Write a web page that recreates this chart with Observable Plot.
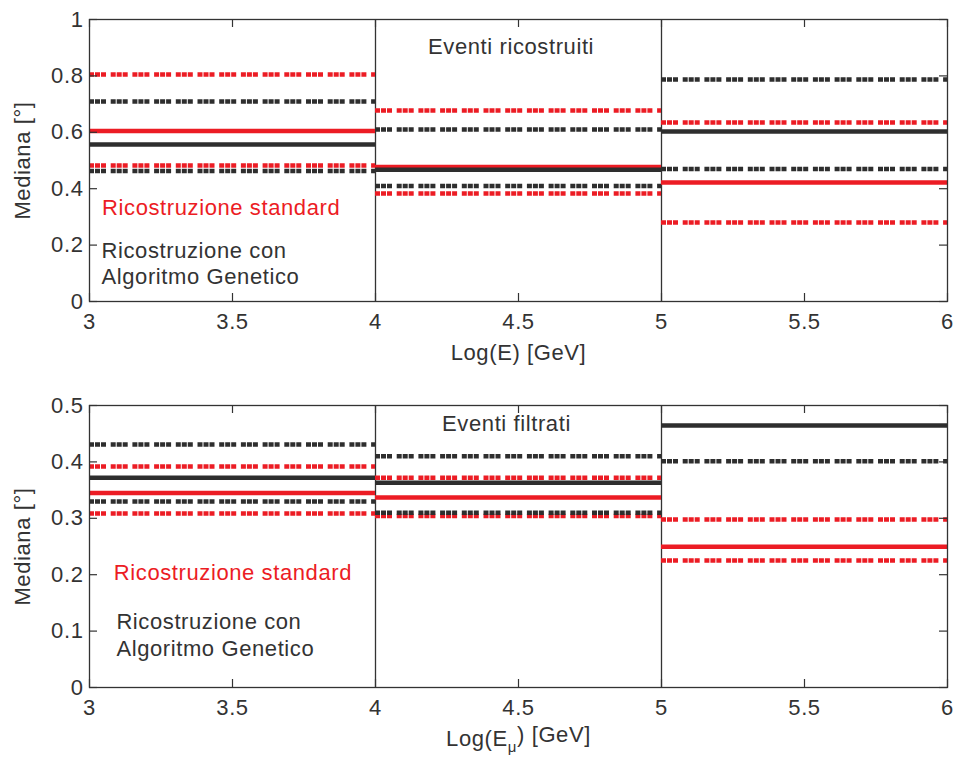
<!DOCTYPE html>
<html><head><meta charset="utf-8">
<script src="https://cdn.jsdelivr.net/npm/d3@7"></script>
<script src="https://cdn.jsdelivr.net/npm/@observablehq/plot@0.6"></script>
<style>
body{margin:0;background:#fff;}
#chart{width:959px;height:764px;overflow:hidden;}
#chart svg{display:block;}
#chart svg text{letter-spacing:0.6px;}
</style></head><body><div id="chart"></div>
<script>
// ---- data ----
const binStart = [3, 4, 5];
const binEnd = [4, 5, 6];
const binEdges = [4, 5];
const xTicks = [3, 3.5, 4, 4.5, 5, 5.5, 6];
const xTickLabels = ["3", "3.5", "4", "4.5", "5", "5.5", "6"];

// Top panel: Eventi ricostruiti
const topYTicks = [0, 0.2, 0.4, 0.6, 0.8, 1];
const topYTickLabels = ["0", "0.2", "0.4", "0.6", "0.8", "1"];
const topStdMedian = [0.605, 0.477, 0.422];
const topStdQ1 = [0.482, 0.383, 0.28];
const topStdQ3 = [0.805, 0.677, 0.635];
const topGaMedian = [0.557, 0.467, 0.603];
const topGaQ1 = [0.463, 0.41, 0.47];
const topGaQ3 = [0.709, 0.61, 0.787];

// Bottom panel: Eventi filtrati
const botYTicks = [0, 0.1, 0.2, 0.3, 0.4, 0.5];
const botYTickLabels = ["0", "0.1", "0.2", "0.3", "0.4", "0.5"];
const botStdMedian = [0.345, 0.337, 0.2495];
const botStdQ1 = [0.3085, 0.304, 0.225];
const botStdQ3 = [0.392, 0.372, 0.298];
const botGaMedian = [0.372, 0.363, 0.4645];
const botGaQ1 = [0.33, 0.31, 0.401];
const botGaQ3 = [0.431, 0.41, null];

const yLabel = "Mediana [°]";
const legendStd = "Ricostruzione standard";
const legendGa = ["Ricostruzione con", "Algoritmo Genetico"];

// ---- drawing ----
const RED = "#ec1c24";
const BLACK = "#2e2e2e";
const TEXT = "#333333";
const DOT = "5,1,5,1,5,4.7";
const FRAME_W = 858, FRAME_H = 282, TICK = 8;

function rows(med, q1, q3) {
  return binStart.map((s, i) => ({x1: s, x2: binEnd[i], med: med[i], q1: q1[i], q3: q3[i]}));
}

function panel(cfg) {
  const std = rows(cfg.std[0], cfg.std[1], cfg.std[2]);
  const ga = rows(cfg.ga[0], cfg.ga[1], cfg.ga[2]);
  const fx = d => xTickLabels[xTicks.indexOf(d)];
  const fy = d => cfg.yTickLabels[cfg.yTicks.indexOf(d)];
  const tk = {stroke: "#333", strokeWidth: 1.2};
  return Plot.plot({
    width: 959, height: 382,
    marginTop: cfg.marginTop, marginBottom: cfg.marginBottom, marginLeft: 89, marginRight: 12,
    x: {domain: [3, 6]},
    y: {domain: cfg.yDomain},
    style: {fontFamily: "'Liberation Sans', Arial, Helvetica, sans-serif", fontSize: "22px", color: TEXT, background: "#fff"},
    marks: [
      Plot.ruleX(binEdges, {stroke: "#333", strokeWidth: 1.3}),
      Plot.ruleY(std, {x1: "x1", x2: "x2", y: "q1", stroke: RED, strokeWidth: 4.5, strokeDasharray: DOT, filter: d => d.q1 != null}),
      Plot.ruleY(std, {x1: "x1", x2: "x2", y: "q3", stroke: RED, strokeWidth: 4.5, strokeDasharray: DOT, filter: d => d.q3 != null}),
      Plot.ruleY(std, {x1: "x1", x2: "x2", y: "med", stroke: RED, strokeWidth: 4.5}),
      Plot.ruleY(ga, {x1: "x1", x2: "x2", y: "q1", stroke: BLACK, strokeWidth: 4.5, strokeDasharray: DOT, filter: d => d.q1 != null}),
      Plot.ruleY(ga, {x1: "x1", x2: "x2", y: "q3", stroke: BLACK, strokeWidth: 4.5, strokeDasharray: DOT, filter: d => d.q3 != null}),
      Plot.ruleY(ga, {x1: "x1", x2: "x2", y: "med", stroke: BLACK, strokeWidth: 4.5}),
      // inward tick marks on all four sides
      Plot.ruleX(xTicks, {...tk, insetTop: FRAME_H - TICK}),
      Plot.ruleX(xTicks, {...tk, insetBottom: FRAME_H - TICK}),
      Plot.ruleY(cfg.yTicks, {...tk, insetRight: FRAME_W - TICK}),
      Plot.ruleY(cfg.yTicks, {...tk, insetLeft: FRAME_W - TICK}),
      Plot.frame({stroke: "#333", strokeWidth: 1.3}),
      Plot.axisX({ticks: xTicks, anchor: "bottom", tickSize: 0, tickPadding: 12, tickFormat: fx, label: null}),
      Plot.axisY({ticks: cfg.yTicks, anchor: "left", tickSize: 0, tickPadding: 6, tickFormat: fy, label: null}),
      Plot.text([yLabel], {frameAnchor: "left", dx: -67, rotate: -90, textAnchor: "middle", lineAnchor: "middle", fill: TEXT}),
      Plot.text([cfg.xLabel], {frameAnchor: "bottom", dy: 51, textAnchor: "middle", lineAnchor: "middle", fill: TEXT, className: cfg.xLabelClass}),
      Plot.text([cfg.title], {x: cfg.titlePos[0], y: cfg.titlePos[1], textAnchor: "middle", lineAnchor: "middle", fill: TEXT}),
      Plot.text([legendStd], {x: cfg.stdPos[0], y: cfg.stdPos[1], textAnchor: "start", lineAnchor: "middle", fill: RED}),
      Plot.text([legendGa[0]], {x: cfg.gaPos[0], y: cfg.gaPos[1], textAnchor: "start", lineAnchor: "middle", fill: TEXT}),
      Plot.text([legendGa[1]], {x: cfg.gaPos[0], y: cfg.gaPos[2], textAnchor: "start", lineAnchor: "middle", fill: TEXT})
    ]
  });
}

const topPanel = panel({
  marginTop: 19, marginBottom: 81, yDomain: [0, 1],
  yTicks: topYTicks, yTickLabels: topYTickLabels,
  std: [topStdMedian, topStdQ1, topStdQ3], ga: [topGaMedian, topGaQ1, topGaQ3],
  title: "Eventi ricostruiti", titlePos: [4.474, 0.9025],
  stdPos: [3.044, 0.3316], gaPos: [3.042, 0.181, 0.0887],
  xLabel: "Log(E) [GeV]", xLabelClass: "xlab-top"
});
const bottomPanel = panel({
  marginTop: 23, marginBottom: 77, yDomain: [0, 0.5],
  yTicks: botYTicks, yTickLabels: botYTickLabels,
  std: [botStdMedian, botStdQ1, botStdQ3], ga: [botGaMedian, botGaQ1, botGaQ3],
  title: "Eventi filtrati", titlePos: [4.458, 0.467],
  stdPos: [3.085, 0.203], gaPos: [3.094, 0.117, 0.069],
  xLabel: "Log(Eμ) [GeV]", xLabelClass: "xlab-bot"
});
const chart = document.getElementById("chart");
chart.appendChild(topPanel);
chart.appendChild(bottomPanel);

// subscript μ in bottom x label
d3.select(bottomPanel).selectAll("g.xlab-bot text").each(function () {
  const t = d3.select(this);
  t.text(null);
  t.append("tspan").text("Log(E");
  t.append("tspan").attr("dy", "0.45em").attr("font-size", "15px").text("μ");
  t.append("tspan").attr("dy", "-0.45em").text(") [GeV]");
});
</script>
</body></html>
